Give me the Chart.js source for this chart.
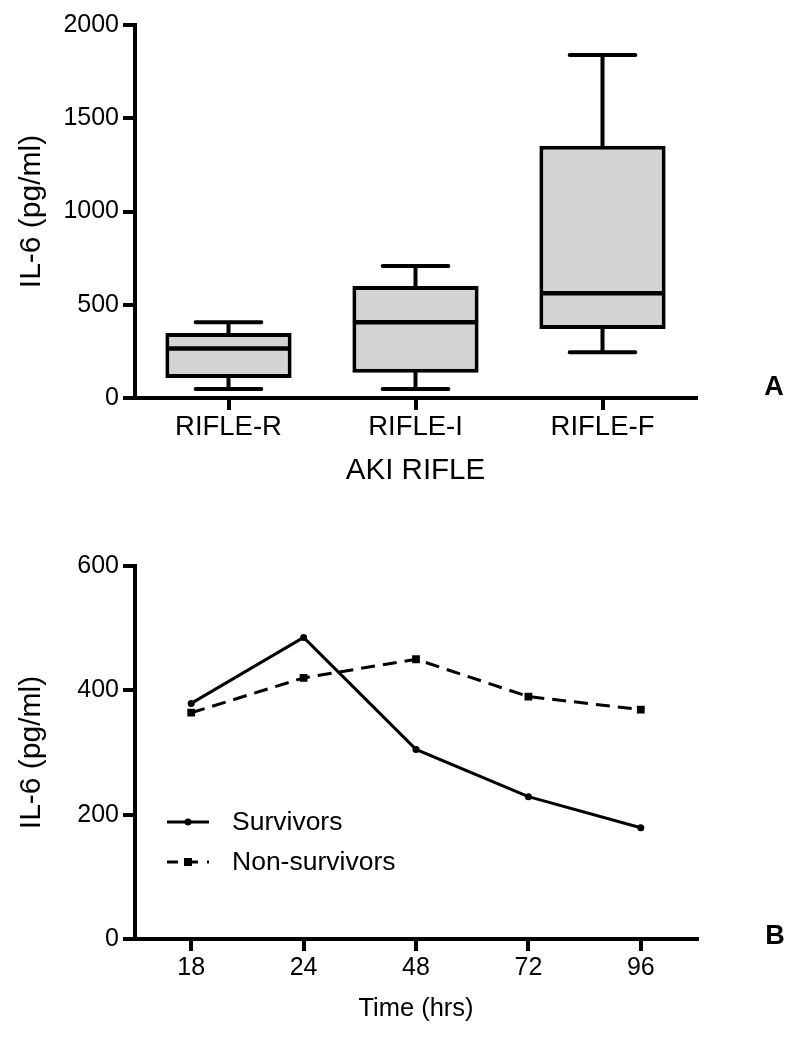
<!DOCTYPE html>
<html>
<head>
<meta charset="utf-8">
<script src="https://cdn.jsdelivr.net/npm/chart.js@4/dist/chart.umd.min.js"></script>
<style>
  html, body { margin: 0; padding: 0; background: #fff; }
  #wrap { position: relative; width: 794px; height: 1038px; }
  canvas { position: absolute; left: 0; }
  #c1 { top: 0; }
  #c2 { top: 520px; }
</style>
</head>
<body>
<div id="wrap">
  <canvas id="c1" width="794" height="520"></canvas>
  <canvas id="c2" width="794" height="518"></canvas>
</div>
<script>
// ---- Panel A data (box plot) ----
const categories = ['RIFLE-R', 'RIFLE-I', 'RIFLE-F'];
const whiskerLow  = [48, 48, 245];
const q1          = [107, 136, 370];
const median      = [266, 406, 561];
const q3          = [348, 600, 1353];
const whiskerHigh = [406, 708, 1839];
const yTicksA = [0, 500, 1000, 1500, 2000];

// ---- Panel B data (line chart) ----
const times = ['18', '24', '48', '72', '96'];
const survivors    = [379, 485, 305, 229, 179];
const nonSurvivors = [364, 420, 450, 390, 369];
const yTicksB = [0, 200, 400, 600];

const FONT = "'Liberation Sans', Arial, Helvetica, sans-serif";
Chart.defaults.font.family = FONT;
Chart.defaults.color = '#000';

const boxPlugin = {
  id: 'boxExtras',
  beforeDatasetsDraw(chart) {
    const ctx = chart.ctx, y = chart.scales.y;
    const meta = chart.getDatasetMeta(0);
    ctx.save();
    ctx.strokeStyle = '#000';
    ctx.lineWidth = 4;
    ctx.lineCap = 'round';
    meta.data.forEach((bar, i) => {
      const x = bar.x, hw = bar.width * 0.26;
      const yHi = y.getPixelForValue(whiskerHigh[i]);
      const yQ3 = y.getPixelForValue(q3[i]);
      const yLo = y.getPixelForValue(whiskerLow[i]);
      const yQ1 = y.getPixelForValue(q1[i]);
      ctx.beginPath();
      ctx.moveTo(x, yHi); ctx.lineTo(x, yQ3);
      ctx.moveTo(x, yLo); ctx.lineTo(x, yQ1);
      ctx.moveTo(x - hw, yHi); ctx.lineTo(x + hw, yHi);
      ctx.moveTo(x - hw, yLo); ctx.lineTo(x + hw, yLo);
      ctx.stroke();
    });
    ctx.restore();
  },
  afterDatasetsDraw(chart) {
    const ctx = chart.ctx, y = chart.scales.y;
    const meta = chart.getDatasetMeta(0);
    ctx.save();
    ctx.strokeStyle = '#000';
    ctx.lineWidth = 4.5;
    ctx.lineCap = 'butt';
    meta.data.forEach((bar, i) => {
      const ym = y.getPixelForValue(median[i]);
      ctx.beginPath();
      ctx.moveTo(bar.x - bar.width / 2 + 1, ym);
      ctx.lineTo(bar.x + bar.width / 2 - 1, ym);
      ctx.stroke();
    });
    ctx.restore();
  }
};

const panelLabel = {
  id: 'panelLabel',
  afterDraw(chart, args, opts) {
    const ctx = chart.ctx;
    ctx.save();
    ctx.font = 'bold 27px ' + FONT;
    ctx.fillStyle = '#000';
    ctx.textAlign = 'center';
    ctx.textBaseline = 'middle';
    ctx.fillText(opts.text, opts.x, opts.y);
    ctx.restore();
  }
};

const lineLegend = {
  id: 'lineLegend',
  afterDraw(chart, args, opts) {
    const ctx = chart.ctx;
    ctx.save();
    chart.data.datasets.forEach((ds, i) => {
      const yy = opts.y + i * opts.gap;
      ctx.strokeStyle = '#000';
      ctx.lineWidth = ds.borderWidth;
      ctx.setLineDash(ds.borderDash ? opts.dash : []);
      ctx.beginPath();
      ctx.moveTo(opts.x, yy);
      ctx.lineTo(opts.x + opts.len, yy);
      ctx.stroke();
      ctx.setLineDash([]);
      ctx.fillStyle = '#000';
      const cx = opts.x + opts.len / 2;
      if (ds.pointStyle === 'rect') {
        ctx.fillRect(cx - 4, yy - 4, 8, 8);
      } else {
        ctx.beginPath();
        ctx.arc(cx, yy, 3.5, 0, Math.PI * 2);
        ctx.fill();
      }
      ctx.font = '26.5px ' + FONT;
      ctx.textAlign = 'left';
      ctx.textBaseline = 'middle';
      ctx.fillText(ds.label, opts.textX, yy + 1);
    });
    ctx.restore();
  }
};

function axisCommon(tickLen) {
  return {
    border: { display: true, color: '#000', width: 4 },
    grid: { drawOnChartArea: false, drawTicks: true, tickLength: tickLen,
            tickWidth: 4, tickColor: '#000', color: '#000', lineWidth: 4, offset: false }
  };
}
const plainNum = v => String(v);

// ---- Panel A ----
new Chart(document.getElementById('c1'), {
  type: 'bar',
  data: {
    labels: categories,
    datasets: [{
      label: 'IL-6',
      data: categories.map((c, i) => [q1[i], q3[i]]),
      backgroundColor: '#d4d4d4',
      borderColor: '#000',
      borderWidth: 4,
      borderSkipped: false,
      categoryPercentage: 1,
      barPercentage: 0.675
    }]
  },
  options: {
    responsive: false,
    animation: false,
    devicePixelRatio: 1,
    layout: { padding: { top: 25, right: 98, bottom: 0, left: 0 } },
    plugins: {
      legend: { display: false },
      tooltip: { enabled: false },
      panelLabel: { text: 'A', x: 774, y: 388 }
    },
    scales: {
      x: Object.assign(axisCommon(12), {
        offset: true,
        ticks: { font: { size: 27.5 }, padding: 1, color: '#000' },
        title: { display: true, text: 'AKI RIFLE', font: { size: 29.5 }, color: '#000',
                 padding: { top: 0, bottom: 31 } },
        afterFit(s) { s.height = 122; }
      }),
      y: Object.assign(axisCommon(12), {
        min: 0, max: 2000,
        afterBuildTicks(s) { s.ticks = yTicksA.map(v => ({ value: v })); },
        ticks: { font: { size: 25 }, padding: 4, color: '#000', callback: plainNum },
        title: { display: true, text: 'IL-6 (pg/ml)', font: { size: 30 }, color: '#000',
                 padding: { top: 14, bottom: 0 } },
        afterFit(s) { s.width = 135; }
      })
    }
  },
  plugins: [boxPlugin, panelLabel]
});

// ---- Panel B ----
new Chart(document.getElementById('c2'), {
  type: 'line',
  data: {
    labels: times,
    datasets: [
      {
        label: 'Survivors',
        data: survivors,
        borderColor: '#000',
        backgroundColor: '#000',
        borderWidth: 3,
        pointStyle: 'circle',
        pointRadius: 3.5,
        pointBorderWidth: 0,
        tension: 0,
        fill: false
      },
      {
        label: 'Non-survivors',
        data: nonSurvivors,
        borderColor: '#000',
        backgroundColor: '#000',
        borderWidth: 3,
        borderDash: [14, 8],
        pointStyle: 'rect',
        pointRadius: 5.5,
        pointBorderWidth: 0,
        tension: 0,
        fill: false
      }
    ]
  },
  options: {
    responsive: false,
    animation: false,
    devicePixelRatio: 1,
    layout: { padding: { top: 46, right: 97, bottom: 0, left: 0 } },
    plugins: {
      legend: { display: false },
      tooltip: { enabled: false },
      panelLabel: { text: 'B', x: 775, y: 417 },
      lineLegend: { x: 167, len: 42, y: 302, gap: 40, textX: 232, dash: [11, 9] }
    },
    scales: {
      x: Object.assign(axisCommon(12), {
        offset: true,
        ticks: { font: { size: 25 }, padding: 2, color: '#000' },
        title: { display: true, text: 'Time (hrs)', font: { size: 25.5 }, color: '#000',
                 padding: { top: 0, bottom: 14 } },
        afterFit(s) { s.height = 99; }
      }),
      y: Object.assign(axisCommon(12), {
        min: 0, max: 600,
        afterBuildTicks(s) { s.ticks = yTicksB.map(v => ({ value: v })); },
        ticks: { font: { size: 25 }, padding: 4, color: '#000', callback: plainNum },
        title: { display: true, text: 'IL-6 (pg/ml)', font: { size: 30 }, color: '#000',
                 padding: { top: 14, bottom: 0 } },
        afterFit(s) { s.width = 135; }
      })
    }
  },
  plugins: [panelLabel, lineLegend]
});
</script>
</body>
</html>
